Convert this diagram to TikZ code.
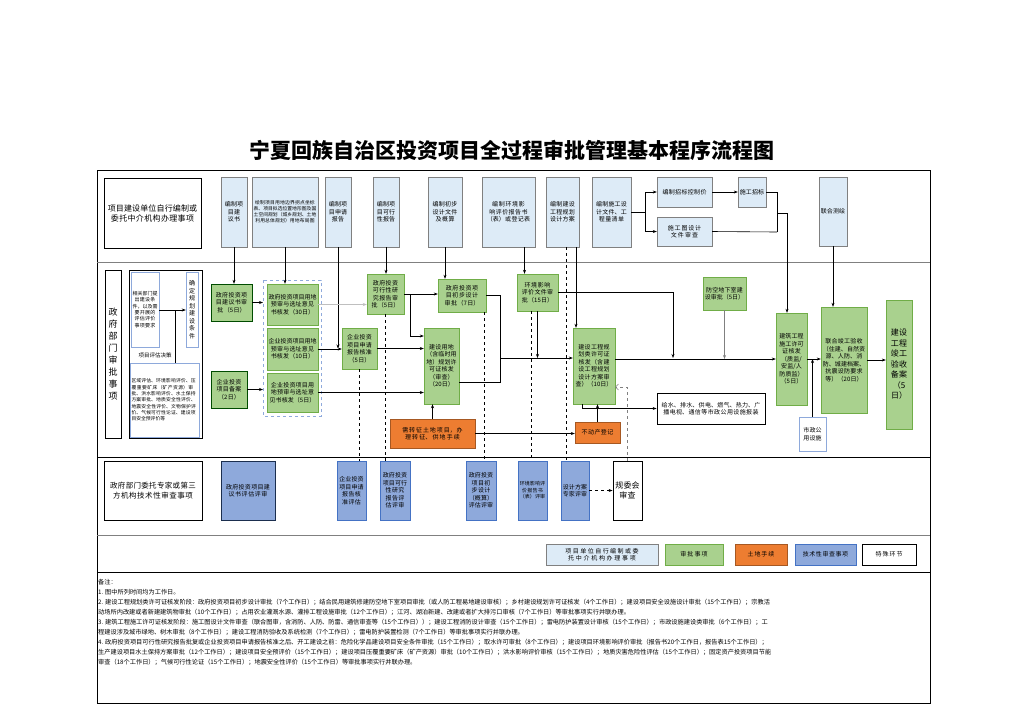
\documentclass[tikz,border=0pt]{standalone}
\usepackage{fontspec}
\setmainfont{Noto Sans CJK SC}
\usetikzlibrary{arrows.meta}
\XeTeXlinebreaklocale "zh"
\XeTeXlinebreakskip = 0pt plus 1pt
\definecolor{lblue}{HTML}{DDEBF7}
\definecolor{lgreen}{HTML}{A9D18E}
\definecolor{dgreen}{HTML}{70AD47}
\definecolor{orng}{HTML}{ED7D31}
\definecolor{tblue}{HTML}{8EA9DB}
\definecolor{bblue}{HTML}{4472C4}
\tikzset{
  base/.style={draw,inner sep=1pt,align=center,font=\fontsize{6}{7.5}\selectfont},
  self/.style={base,fill=lblue,draw=gray},
  appr/.style={base,fill=lgreen,draw=dgreen},
  land/.style={base,fill=orng,draw=orng!70!black},
  tech/.style={base,fill=tblue,draw=bblue},
  spec/.style={base,fill=white,draw=black,thick},
  note/.style={base,fill=white,draw=tblue},
  arr/.style={-{Stealth[length=4pt]}},
  ln/.style={line width=0.6pt},
}
% box from corner (x1,y1) to corner (x2,y2)
\newcommand{\boxat}[7]{\node[#2,minimum width={(#5-#3)*1pt},minimum height={(#6-#4)*1pt},
  text width={(#5-#3-3)*1pt}] (#1) at ({(#3+#5)/2},{(#4+#6)/2}) {#7};}

\begin{document}
\begin{tikzpicture}[x=1pt,y=-1pt]
\useasboundingbox (0,0) rectangle (1024,724);
\node[font=\fontsize{21}{24}\selectfont\bfseries] (title) at (512,150) {宁夏回族自治区投资项目全过程审批管理基本程序流程图};

% frame and rows
\draw[line width=0.8pt] (97,170) rectangle (930,703);
\draw[gray] (97,262) -- (930,262);
\draw[line width=0.8pt] (97,457) -- (930,457);
\draw[gray] (97,535) -- (930,535);
\draw[line width=0.8pt] (97,572) -- (930,572);

% row 1
\boxat{h1}{spec,thin,font=\fontsize{8}{10}\selectfont}{104}{178}{201}{248}{项目建设单位自行编制或委托中介机构办理事项}
\boxat{b1}{self}{221}{177}{247}{247}{编制项目建议书}
\boxat{b2}{self,font=\fontsize{4.8}{6}\selectfont}{252}{177}{318}{247}{绘制项目用地边界拐点坐标表、项目拟选位置地形图及国土空间规划（城乡规划、土地利用总体规划）用地布局图}
\boxat{b3}{self}{325}{177}{351}{247}{编制项目申请报告}
\boxat{b4}{self}{373}{177}{399}{247}{编制项目可行性报告}
\boxat{b5}{self}{428}{177}{462}{247}{编制初步设计文件及概算}
\boxat{b6}{self}{482}{177}{535}{247}{编制环境影响评价报告书（表）或登记表}
\boxat{b7}{self}{546}{177}{579}{247}{编制建设工程规划设计方案}
\boxat{b8}{self}{592}{177}{631}{247}{编制施工设计文件、工程量清单}
\boxat{b9}{self}{657}{177}{712}{207}{编制招标控制价}
\boxat{b10}{self}{657}{217}{712}{246}{施工图设计文件审查}
\boxat{b11}{self}{738}{177}{766}{207}{施工招标}
\boxat{b12}{self}{819}{177}{847}{246}{联合测绘}

% row 2
\boxat{h2}{spec,font=\fontsize{9}{12}\selectfont}{105}{270}{121}{438}{政府部门审批事项}
\draw[thick] (129,270) rectangle (202,438);
\boxat{q1}{note,font=\fontsize{5}{6.3}\selectfont}{131}{272}{159}{347}{相关部门提出建设条件，以及需要开展的评估评价事项要求}
\boxat{q2}{note}{186}{272}{198}{347}{确定规划建设条件}
\node[font=\fontsize{5.5}{7}\selectfont] (pj) at (155,355) {项目评估决策};
\boxat{q3}{note,align=left,font=\fontsize{4.8}{6.3}\selectfont}{130}{363}{199}{437}{区域评估、环境影响评价、压覆重要矿床（矿产资源）审批、洪水影响评价、水土保持方案审批、地质安全性评价、地震安全性评价、文物保护评价、气候可行性论证、建设项目安全预评价等}
\draw[dashed,draw=bblue!60] (263,280) rectangle (321,416);
\coordinate (dbw) at (263,300);
\boxat{g1}{appr,draw=black!70!green}{211}{284}{252}{321}{政府投资项目建议书审批（5日）}
\boxat{g2}{appr}{267}{284}{318}{325}{政府投资项目用地预审与选址意见书核发（30日）}
\boxat{g3}{appr}{267}{328}{318}{370}{企业投资项目用地预审与选址意见书核发（10日）}
\boxat{g4}{appr}{267}{373}{318}{412}{企业投资项目用地预审与选址意见书核发（5日）}
\boxat{g5}{appr,draw=black!70!green}{211}{371}{247}{408}{企业投资项目备案（2日）}
\boxat{g6}{appr}{367}{274}{404}{314}{政府投资可行性研究报告审批（5日）}
\boxat{g7}{appr}{342}{328}{377}{369}{企业投资项目申请报告核准（5日）}
\boxat{g8}{appr}{438}{279}{486}{312}{政府投资项目初步设计审批（7日）}
\boxat{g9}{appr}{424}{328}{459}{404}{建设用地（含临时用地）规划许可证核发（审查）（20日）}
\boxat{g10}{appr}{517}{274}{558}{311}{环境影响评价文件审批（15日）}
\boxat{g11}{appr}{573}{328}{615}{404}{建设工程规划类许可证核发（含建设工程规划设计方案审查）（10日）}
\boxat{g12}{appr}{703}{277}{746}{310}{防空地下室建设审批（5日）}
\boxat{g13}{appr}{776}{313}{807}{405}{建筑工程施工许可证核发（质监/安监/人防质监）（5日）}
\boxat{g14}{appr}{821}{307}{867}{413}{联合竣工验收（住建、自然资源、人防、消防、城建档案、抗震设防要求等）（20日）}
\boxat{g15}{appr,font=\fontsize{8}{10.5}\selectfont}{886}{300}{912}{429}{建设工程竣工验收备案（5日）}
\boxat{o1}{land}{390}{419}{475}{448}{需转征土地项目，办理转征、供地手续}
\boxat{o2}{land}{575}{422}{620}{443}{不动产登记}
\boxat{w1}{spec}{657}{393}{765}{424}{给水、排水、供电、燃气、热力、广播电视、通信等市政公用设施报装}
\boxat{m1}{note}{799}{417}{826}{451}{市政公用设施}

% row 3
\boxat{h3}{spec,thin,font=\fontsize{7.5}{9.5}\selectfont}{104}{461}{202}{520}{政府部门委托专家或第三方机构技术性审查事项}
\boxat{t1}{tech,draw=black!60!bblue,thick}{221}{461}{275}{520}{政府投资项目建议书评估评审}
\boxat{t2}{tech}{337}{461}{366}{520}{企业投资项目申请报告核准评估}
\boxat{t3}{tech}{380}{461}{410}{520}{政府投资项目可行性研究报告评估评审}
\boxat{t4}{tech}{466}{461}{496}{520}{政府投资项目初步设计（概算）评估评审}
\boxat{t5}{tech,font=\fontsize{5}{6.5}\selectfont}{518}{461}{547}{520}{环境影响评价报告书（表）评审}
\boxat{t6}{tech}{561}{461}{589}{520}{设计方案专家评审}
\boxat{rq}{spec,font=\fontsize{8}{10}\selectfont}{613}{461}{642}{520}{规委会审查}

% legend
\boxat{k1}{self}{546}{544}{658}{565}{项目单位自行编制或委托中介机构办理事项}
\boxat{k2}{appr}{665}{544}{723}{565}{审批事项}
\boxat{k3}{land}{735}{544}{787}{565}{土地手续}
\boxat{k4}{tech}{795}{544}{856}{565}{技术性审查事项}
\boxat{k5}{spec}{862}{544}{916}{565}{特殊环节}

% connectors, row 1
\draw[ln,arr] (b1.south) -- (b1.south |- g1.north);
\draw[ln,arr] (b2.south) -- (b2.south |- g2.north);
\draw[ln,arr] (b3.south) -- (b3.south |- g7.west);
\draw[ln,arr] (b4.south) -- (b4.south |- g6.north);
\draw[ln,arr] (b5.south) -- (b5.south |- g8.north);
\draw[ln,arr] ([xshift=16pt]b6.south) -- ([xshift=16pt]b6.south |- g10.north);
\draw[ln,arr] ([xshift=13.5pt]b7.south) -- ([xshift=13.5pt]b7.south |- g11.north);
\draw[ln,dashed] ([xshift=3.5pt]b7.south) -- ([xshift=3.5pt]b7.south |- t6.north);
\coordinate (sp) at (645,212);
\draw[ln] (b8.east) -- (sp);
\draw[ln,arr] (sp) |- (b9.west);
\draw[ln,arr] (sp) |- (b10.west);
\draw[ln,arr] (b9.east) -- (b11.west);
\coordinate (j1) at (777,232);
\coordinate (j2) at (787,213);
\draw[ln] (b11.east) -| (j1);
\draw[ln] (b10.east) -- (j1);
\draw[ln,arr] (j1 |- j2) -- (j2) -- (j2 |- g13.north);
\draw[ln,arr] (b12.south) -- (b12.south |- g14.north);

% connectors, row 2
\coordinate (qa) at (175,310);
\draw[ln,arr] (q1.east |- qa) -- (q2.west |- qa);
\draw[ln] (qa) -- (qa |- q3.north);
\draw[ln,arr] (g1.east) -- (g1.east -| dbw);
\draw[ln,arr] (g5.east) -- (g5.east -| dbw);
\draw[ln,arr,gray!50] (g2.east) -- (g2.east -| g6.west);
\draw[ln,arr] (g3.east) -- (g3.east -| g7.west);
\draw[ln,arr] (g6.east) -- (g6.east -| g8.west);
\coordinate (c6) at (410,336);
\draw[ln,arr] (c6 |- g6.east) -- (c6) -- (c6 -| g9.west);
\draw[ln,arr] (g7.east) -- (g7.east -| g9.west);
\draw[ln,arr] (g4.east) -- (g4.east -| g9.west);
\coordinate (c8) at (500,358);
\draw[ln] (g8.east) -| (500,382) -- (g9.east |- 0,382);
\draw[ln,arr] (c8) -- (c8 -| g11.west);
\draw[ln,arr] (g10.south) -- (g10.south |- c8);
\coordinate (c10) at (673,358);
\draw[ln,arr] (g10.east) -| (c10);
\draw[ln,arr] (g13.west -| g11.east) -- (g13.west);
\draw[ln,arr,gray] (g12.south) -- (g12.south |- g13.west);
\draw[ln,arr] (g13.east) -- (g13.east -| g14.west);
\draw[ln,arr] (m1.north) -- (m1.north |- g13.east);
\draw[ln,arr] (g14.east) -- (g14.east -| g15.west);
\draw[ln,arr] (o1.north) -- (o1.north |- g9.south);
\draw[ln,arr] (o1.east) -- (o1.east -| o2.west);
\draw[ln,arr] (o2.north) -- (o2.north |- g11.south);
\draw[ln,arr] ([xshift=-12pt]g11.south) |- (w1.west);
\draw[dashed,gray,-{Straight Barb[length=3pt]}] (rq.north) |- ([yshift=-21pt]g11.east);

% connectors, row 3
\draw[ln,dashed] (g6.south) -- (g6.south |- t3.north);
\draw[ln,dashed] (g7.south) -- (g7.south |- t2.north);
\draw[ln,dashed] ([xshift=22pt]g8.south) -- ([xshift=22pt]g8.south |- t4.north);
\draw[ln,dashed] ([xshift=-6pt]g10.south) -- ([xshift=-6pt]g10.south |- t5.north);
\draw[ln,dashed,arr] (t6.east) -- (rq.west);

% notes
\begin{scope}[every node/.style={anchor=west,inner sep=0pt,font=\fontsize{6.2}{7}\selectfont}]
\node (n0) at (98,582) {备注：};
\node (n1) at (98,592) {1. 图中所列时间均为工作日。};
\node (n2) at (98,602) {2. 建设工程规划类许可证核发阶段：政府投资项目初步设计审批（7个工作日）；结合民用建筑修建防空地下室项目审批（或人防工程易地建设审核）；乡村建设规划许可证核发（4个工作日）；建设项目安全设施设计审批（15个工作日）；宗教活};
\node (n3) at (98,612) {动场所内改建或者新建建筑物审批（10个工作日）；占用农业灌溉水源、灌排工程设施审批（12个工作日）；江河、湖泊新建、改建或者扩大排污口审核（7个工作日）等审批事项实行并联办理。};
\node (n4) at (98,622) {3. 建筑工程施工许可证核发阶段：施工图设计文件审查（联合图审，含消防、人防、防雷、通信审查等（15个工作日））；建设工程消防设计审查（15个工作日）；雷电防护装置设计审核（15个工作日）；市政设施建设类审批（6个工作日）；工};
\node (n5) at (98,632) {程建设涉及城市绿地、树木审批（8个工作日）；建设工程消防验收及系统检测（7个工作日）；雷电防护装置检测（7个工作日）等审批事项实行并联办理。};
\node (n6) at (98,642) {4. 政府投资项目可行性研究报告批复或企业投资项目申请报告核准之后、开工建设之前：危险化学品建设项目安全条件审批（15个工作日）；取水许可审批（8个工作日）；建设项目环境影响评价审批（报告书20个工作日，报告表15个工作日）；};
\node (n7) at (98,652) {生产建设项目水土保持方案审批（12个工作日）；建设项目安全预评价（15个工作日）；建设项目压覆重要矿床（矿产资源）审批（10个工作日）；洪水影响评价审核（15个工作日）；地质灾害危险性评估（15个工作日）；固定资产投资项目节能};
\node (n8) at (98,662) {审查（18个工作日）；气候可行性论证（15个工作日）；地震安全性评价（15个工作日）等审批事项实行并联办理。};
\end{scope}
\end{tikzpicture}
\end{document}
